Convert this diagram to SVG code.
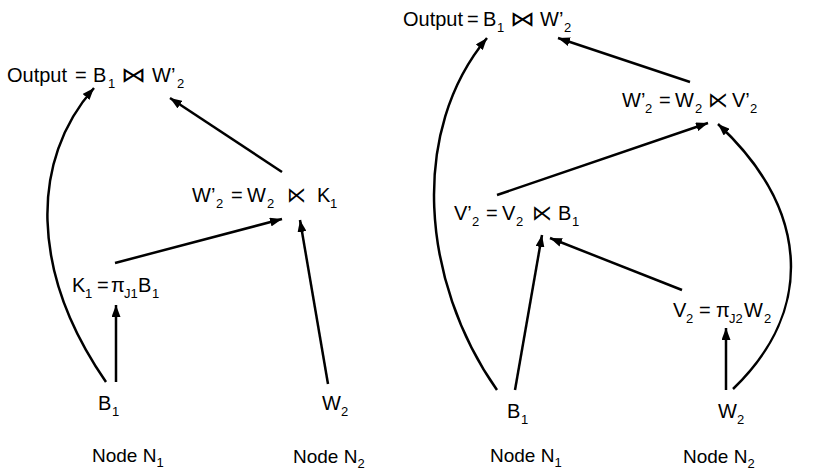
<svg xmlns="http://www.w3.org/2000/svg" width="818" height="472" viewBox="0 0 818 472">
  <style>
    text { font-family: "Liberation Sans", Arial, sans-serif; font-size: 20px; fill: #000; }
    .sub { font-size: 13px; }
    .node { font-size: 19px; }
    .sym { font-family: "DejaVu Sans", sans-serif; font-weight: 200; font-size: 21px; }
    .edge { fill: none; stroke: #000; stroke-width: 2.5; marker-end: url(#arrow); }
  </style>
  <defs>
    <marker id="arrow" markerUnits="userSpaceOnUse" markerWidth="13" markerHeight="9" refX="12" refY="4.5" orient="auto">
      <path d="M0,0 L12,4.5 L0,9 z" fill="#000"/>
    </marker>
  </defs>
  <rect width="818" height="472" fill="#fff"/>

  <!-- connectors -->
  <g id="connectors">
    <!-- left plan -->
    <path class="edge" d="M106,382 C30,272 30,160 94,88"/>
    <path class="edge" d="M116,382 L116,305"/>
    <path class="edge" d="M115,263 L282,219"/>
    <path class="edge" d="M282,172 L170,98"/>
    <path class="edge" d="M328,384 L300,220"/>
    <!-- right plan -->
    <path class="edge" d="M497,390 C420,280 410,130 487,38"/>
    <path class="edge" d="M515,390 L542,235"/>
    <path class="edge" d="M682,290 L550,238"/>
    <path class="edge" d="M497,195 L708,123"/>
    <path class="edge" d="M690,82 L558,38"/>
    <path class="edge" d="M726,390 L726,328"/>
    <path class="edge" d="M733,389 C815,310 810,210 718,124"/>
  </g>

  <!-- left plan nodes -->
  <g id="left-output">
    <text x="7" y="82">Output</text>
    <text x="75" y="82">=</text>
    <text x="93" y="82">B</text>
    <text class="sub" x="108" y="88">1</text>
    <text class="sym" x="121" y="82" textLength="25" lengthAdjust="spacingAndGlyphs">⋈</text>
    <text x="152" y="82">W’</text>
    <text class="sub" x="177" y="88">2</text>
  </g>
  <g id="left-semijoin">
    <text x="192" y="202">W’</text>
    <text class="sub" x="216" y="208">2</text>
    <text x="231" y="202">=</text>
    <text x="247" y="202">W</text>
    <text class="sub" x="267" y="208">2</text>
    <text class="sym" x="287" y="202" textLength="19" lengthAdjust="spacingAndGlyphs">⋉</text>
    <text x="317" y="202">K</text>
    <text class="sub" x="330" y="208">1</text>
  </g>
  <g id="left-projection">
    <text x="72" y="292">K</text>
    <text class="sub" x="85" y="298">1</text>
    <text x="97" y="292">=</text>
    <text x="111" y="292">π</text>
    <text class="sub" x="124" y="298">J1</text>
    <text x="138" y="292">B</text>
    <text class="sub" x="152" y="298">1</text>
  </g>
  <g id="left-b1">
    <text x="98" y="410">B</text>
    <text class="sub" x="112" y="416">1</text>
  </g>
  <g id="left-w2">
    <text x="322" y="410">W</text>
    <text class="sub" x="341" y="416">2</text>
  </g>
  <g id="left-node-n1">
    <text class="node" x="92" y="462">Node N<tspan class="sub" dy="5">1</tspan></text>
  </g>
  <g id="left-node-n2">
    <text class="node" x="293" y="463">Node N<tspan class="sub" dy="5">2</tspan></text>
  </g>

  <!-- right plan nodes -->
  <g id="right-output">
    <text x="403" y="26">Output</text>
    <text x="467" y="26">=</text>
    <text x="483" y="26">B</text>
    <text class="sub" x="497" y="32">1</text>
    <text class="sym" x="510" y="26" textLength="25" lengthAdjust="spacingAndGlyphs">⋈</text>
    <text x="540" y="26">W’</text>
    <text class="sub" x="564" y="32">2</text>
  </g>
  <g id="right-w2-semijoin">
    <text x="622" y="107">W’</text>
    <text class="sub" x="645" y="113">2</text>
    <text x="659" y="107">=</text>
    <text x="675" y="107">W</text>
    <text class="sub" x="695" y="113">2</text>
    <text class="sym" x="708" y="107" textLength="20" lengthAdjust="spacingAndGlyphs">⋉</text>
    <text x="732" y="107">V’</text>
    <text class="sub" x="750" y="113">2</text>
  </g>
  <g id="right-v2-semijoin">
    <text x="454" y="220">V’</text>
    <text class="sub" x="472" y="226">2</text>
    <text x="486" y="220">=</text>
    <text x="502" y="220">V</text>
    <text class="sub" x="516" y="226">2</text>
    <text class="sym" x="532" y="220" textLength="20" lengthAdjust="spacingAndGlyphs">⋉</text>
    <text x="558" y="220">B</text>
    <text class="sub" x="572" y="226">1</text>
  </g>
  <g id="right-projection">
    <text x="673" y="317">V</text>
    <text class="sub" x="686" y="323">2</text>
    <text x="699" y="317">=</text>
    <text x="716" y="317">π</text>
    <text class="sub" x="729" y="323">J2</text>
    <text x="744" y="317">W</text>
    <text class="sub" x="764" y="323">2</text>
  </g>
  <g id="right-b1">
    <text x="507" y="418">B</text>
    <text class="sub" x="521" y="424">1</text>
  </g>
  <g id="right-w2">
    <text x="718" y="418">W</text>
    <text class="sub" x="737" y="424">2</text>
  </g>
  <g id="right-node-n1">
    <text class="node" x="490" y="462">Node N<tspan class="sub" dy="5">1</tspan></text>
  </g>
  <g id="right-node-n2">
    <text class="node" x="683" y="463">Node N<tspan class="sub" dy="5">2</tspan></text>
  </g>
</svg>
